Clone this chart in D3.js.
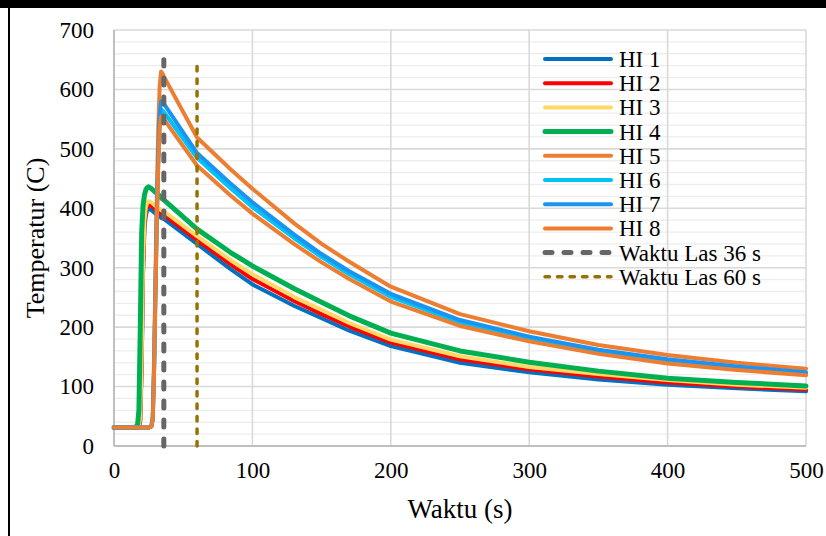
<!DOCTYPE html>
<html>
<head>
<meta charset="utf-8">
<script src="https://cdn.jsdelivr.net/npm/d3@7"></script>
<style>
  html, body { margin: 0; padding: 0; background: #fff; }
  svg { display: block; }
  text { font-family: "Liberation Serif", "Times New Roman", serif; fill: #000; }
</style>
</head>
<body>
<svg id="chart" width="826" height="536"></svg>
<script>
// Time (s) of every sample, shared by all heat-input series
const times = [0, 15, 17, 18, 19, 20, 21, 22, 23, 24, 25, 27, 28, 29, 30, 31, 32, 33, 34, 35, 36,
               60, 84, 100, 130, 150, 170, 200, 250, 300, 350, 400, 450, 500];

// Temperature (C) per series
const hi1 = [31, 31, 31, 32, 42, 130, 290, 365, 388, 397, 399, 397, 395, 393, 391, 389, 387, 386, 384, 383, 382,
             340, 298, 272, 236, 215, 194, 168, 140, 124, 112, 103, 97, 92];
const hi2 = [31, 31, 31, 32, 45, 140, 300, 372, 395, 404, 406, 404, 402, 400, 398, 396, 394, 393, 391, 390, 389,
             347, 306, 281, 244, 222, 201, 174, 146, 129, 117, 107, 100, 95];
const hi3 = [31, 31, 31, 33, 50, 150, 310, 380, 402, 410, 412, 410, 408, 406, 404, 402, 400, 399, 397, 396, 395,
             353, 313, 289, 251, 229, 207, 179, 151, 133, 121, 111, 103, 98];
const hi4 = [31, 31, 35, 60, 200, 360, 405, 422, 431, 435, 436, 433, 431, 429, 427, 425, 423, 421, 418, 416, 414,
             365, 326, 303, 265, 242, 219, 190, 160, 141, 126, 114, 107, 101];
const hi5 = [31, 31, 31, 31, 31, 31, 31, 31, 31, 31, 31, 33, 50, 150, 290, 425, 535, 605, 630, 627, 622,
             519, 466, 433, 375, 340, 310, 268, 222, 193, 170, 153, 140, 130];
const hi6 = [31, 31, 31, 31, 31, 31, 31, 31, 31, 31, 31, 33, 45, 130, 265, 390, 482, 545, 566, 565, 562,
             485, 434, 402, 350, 318, 289, 251, 208, 181, 160, 144, 132, 122];
const hi7 = [31, 31, 31, 31, 31, 31, 31, 31, 31, 31, 31, 33, 46, 135, 270, 400, 492, 555, 580, 579, 576,
             493, 442, 410, 356, 323, 294, 256, 212, 184, 162, 146, 134, 124];
const hi8 = [31, 31, 31, 31, 31, 31, 31, 31, 31, 31, 31, 33, 44, 128, 260, 380, 472, 535, 554, 553, 550,
             472, 422, 391, 340, 309, 281, 243, 202, 176, 155, 139, 128, 119];

const seriesNames = ["HI 1", "HI 2", "HI 3", "HI 4", "HI 5", "HI 6", "HI 7", "HI 8"];
const seriesValues = [hi1, hi2, hi3, hi4, hi5, hi6, hi7, hi8];
const seriesColors = ["#0070C0", "#FF0000", "#FFD966", "#00B050", "#ED7D31", "#00C3F5", "#1A94F0", "#ED7D31"];

// Welding-time markers
const markerNames = ["Waktu Las 36 s", "Waktu Las 60 s"];
const markerTimes = [36, 60];
const markerTop = 650;

const xTicks = [0, 100, 200, 300, 400, 500];
const yTicks = [0, 100, 200, 300, 400, 500, 600, 700];

const FONT = "Liberation Serif, Times New Roman, serif";
const svg = d3.select("#chart");
const W = 826, H = 536;
const plot = { left: 114, right: 806, top: 30, bottom: 446 };

// Outer frame: heavy top rule and thin left rule
svg.append("rect").attr("x", 0).attr("y", 0).attr("width", W).attr("height", 8).attr("fill", "#000");
svg.append("rect").attr("x", 8).attr("y", 0).attr("width", 2).attr("height", H).attr("fill", "#000");

const x = d3.scaleLinear().domain([0, 500]).range([plot.left, plot.right]);
const y = d3.scaleLinear().domain([0, 700]).range([plot.bottom, plot.top]);

// Minor horizontal gridlines every 20
const minor = d3.range(20, 700, 20).filter(v => v % 100 !== 0);
svg.append("g").selectAll("line").data(minor).join("line")
  .attr("x1", plot.left).attr("x2", plot.right)
  .attr("y1", d => y(d)).attr("y2", d => y(d))
  .attr("stroke", "#EDEDED").attr("stroke-width", 1.3);

// Major gridlines
svg.append("g").selectAll("line").data(yTicks.filter(v => v > 0)).join("line")
  .attr("x1", plot.left).attr("x2", plot.right)
  .attr("y1", d => y(d)).attr("y2", d => y(d))
  .attr("stroke", "#D9D9D9").attr("stroke-width", 1.6);
svg.append("g").selectAll("line").data(xTicks.filter(v => v > 0)).join("line")
  .attr("x1", d => x(d)).attr("x2", d => x(d))
  .attr("y1", plot.top).attr("y2", plot.bottom)
  .attr("stroke", "#D9D9D9").attr("stroke-width", 1.6);

// Axes lines
svg.append("line").attr("x1", plot.left).attr("x2", plot.left)
  .attr("y1", plot.top).attr("y2", plot.bottom).attr("stroke", "#BFBFBF").attr("stroke-width", 2);
svg.append("line").attr("x1", plot.left).attr("x2", plot.right)
  .attr("y1", plot.bottom).attr("y2", plot.bottom).attr("stroke", "#BFBFBF").attr("stroke-width", 2);

// Tick labels
const yAxis = d3.axisLeft(y).tickValues(yTicks).tickSize(0).tickPadding(20);
const gy = svg.append("g").attr("transform", `translate(${plot.left},0)`).call(yAxis);
gy.select(".domain").remove();
gy.selectAll("text").attr("font-size", 23).attr("font-family", FONT).attr("fill", "#000");

const xAxis = d3.axisBottom(x).tickValues(xTicks).tickSize(0).tickPadding(16);
const gx = svg.append("g").attr("transform", `translate(0,${plot.bottom})`).call(xAxis);
gx.select(".domain").remove();
gx.selectAll("text").attr("font-size", 23).attr("font-family", FONT).attr("fill", "#000");

// Axis titles
svg.append("text").attr("x", (plot.left + plot.right) / 2).attr("y", 518)
  .attr("text-anchor", "middle").attr("font-family", FONT).attr("font-size", 27).text("Waktu (s)");
svg.append("text").attr("transform", `translate(44,${(plot.top + plot.bottom) / 2}) rotate(-90)`)
  .attr("text-anchor", "middle").attr("font-family", FONT).attr("font-size", 26).text("Temperatur (C)");

// Temperature curves
const line = d3.line().x(d => x(d[0])).y(d => y(d[1]));
seriesValues.forEach((vals, i) => {
  svg.append("path")
    .datum(times.map((t, k) => [t, vals[k]]))
    .attr("d", line)
    .attr("fill", "none")
    .attr("stroke", seriesColors[i])
    .attr("stroke-width", i === 3 ? 5 : 4)
    .attr("stroke-linejoin", "round")
    .attr("stroke-linecap", "round");
});

// Welding-time markers, drawn upward from zero
const markerStyles = [
  { color: "#666666", width: 5, dash: "7,12" },
  { color: "#987200", width: 3.5, dash: "4.5,8" }
];
markerTimes.forEach((t, i) => {
  const s = markerStyles[i];
  svg.append("path")
    .datum([[t, 0], [t, markerTop]])
    .attr("d", line)
    .attr("fill", "none")
    .attr("stroke", s.color)
    .attr("stroke-width", s.width)
    .attr("stroke-dasharray", s.dash)
    .attr("stroke-linecap", "round");
});

// Legend
const legend = svg.append("g");
const legendItems = seriesNames.map((n, i) => ({ name: n, color: seriesColors[i], width: i === 3 ? 5 : 4, dash: null }))
  .concat(markerNames.map((n, i) => ({ name: n, color: markerStyles[i].color, width: markerStyles[i].width, dash: markerStyles[i].dash })));
legendItems.forEach((it, i) => {
  const cy = 59 + i * 24.2;
  legend.append("line")
    .attr("x1", 545).attr("x2", 611).attr("y1", cy).attr("y2", cy)
    .attr("stroke", it.color).attr("stroke-width", it.width)
    .attr("stroke-linecap", "round")
    .attr("stroke-dasharray", it.dash);
  legend.append("text").attr("x", 619).attr("y", cy).attr("dy", "0.35em")
    .attr("font-family", FONT).attr("font-size", 23).text(it.name);
});
</script>
</body>
</html>
